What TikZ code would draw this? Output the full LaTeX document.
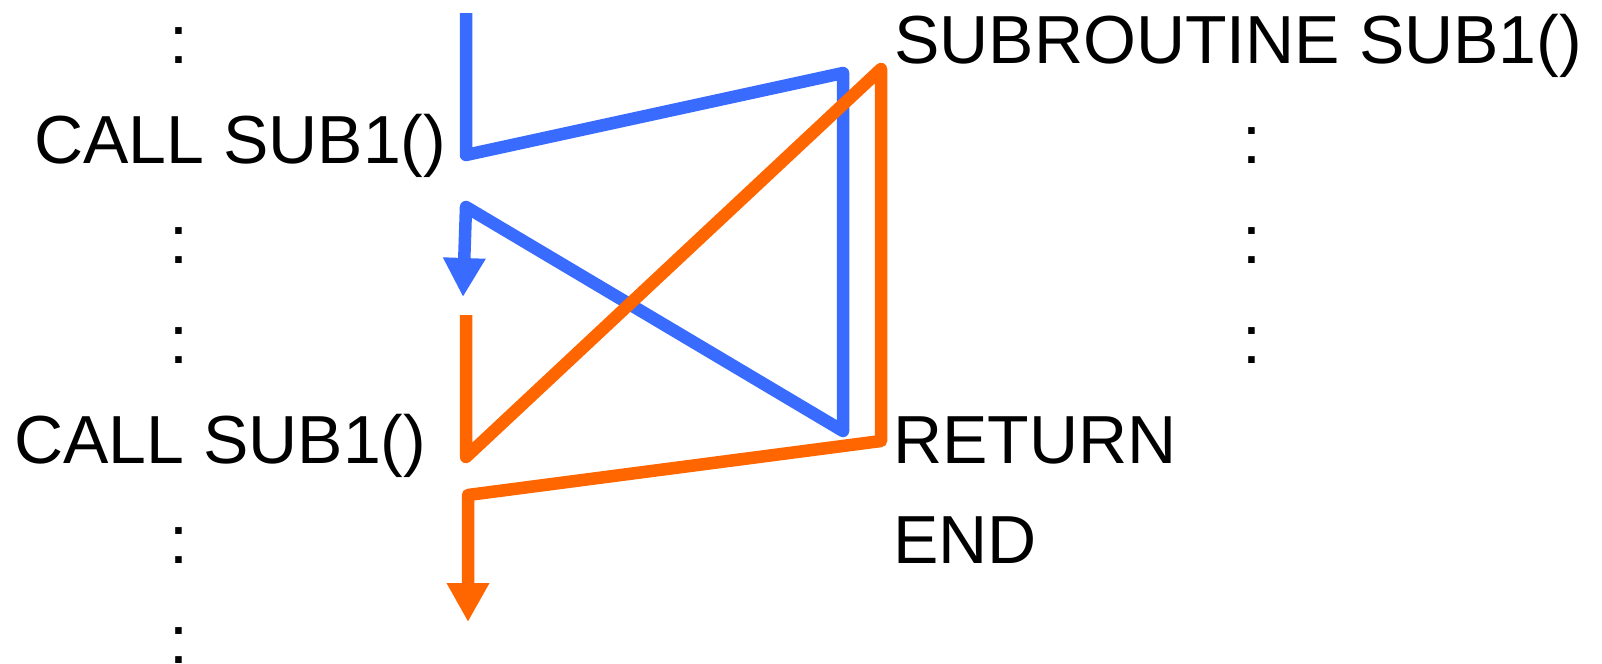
\documentclass[tikz,border=0pt]{standalone}
\usepackage{fontspec}
\setmainfont{Liberation Sans}
\usetikzlibrary{arrows.meta}
\definecolor{callblue}{HTML}{3A6BFF}
\definecolor{callorange}{HTML}{FF6600}

\begin{document}
\begin{tikzpicture}[x=0.5pt,y=-0.5pt,
    code/.style={inner sep=0pt, font=\fontsize{34}{40}\selectfont},
    flow/.style={line width=6.25pt, line join=round},
    tip/.style={-{Triangle[length=19.5pt,width=20pt]}}]
  \useasboundingbox (0,0) rectangle (1602,664);
  % calling program
  \node[code, anchor=base west] (call1) at (34,163) {CALL SUB1()};
  \node[code, anchor=base west] (call2) at (14,463) {CALL SUB1()};
  \foreach \n/\y in {a/63, b/263, c/363, d/563, e/663}
    \node[code, anchor=base] (dl\n) at (179,\y) {:};
  % subroutine
  \node[code, anchor=base west] (sub) at (894,63) {SUBROUTINE SUB1()};
  \node[code, anchor=base west] (ret) at (893,463) {RETURN};
  \node[code, anchor=base west] (fin) at (893,563) {END};
  \foreach \n/\y in {a/163, b/263, c/363}
    \node[code, anchor=base] (dr\n) at (1252,\y) {:};
  % first call
  \coordinate (b0) at (466,13);
  \coordinate (b1) at (466,155);
  \coordinate (b2) at (843,73);
  \coordinate (b3) at (843,431);
  \coordinate (b4) at (466,207);
  \coordinate (b5) at (463,297);
  \draw[flow, callblue, tip] (b0) -- (b1) -- (b2) -- (b3) -- (b4) -- (b5);
  % second call
  \coordinate (o0) at (466,315);
  \coordinate (o1) at (466,457);
  \coordinate (o2) at (881,69);
  \coordinate (o3) at (881,441);
  \coordinate (o4) at (468,495);
  \coordinate (o5) at (468,622);
  \draw[flow, callorange, tip] (o0) -- (o1) -- (o2) -- (o3) -- (o4) -- (o5);
\end{tikzpicture}
\end{document}
